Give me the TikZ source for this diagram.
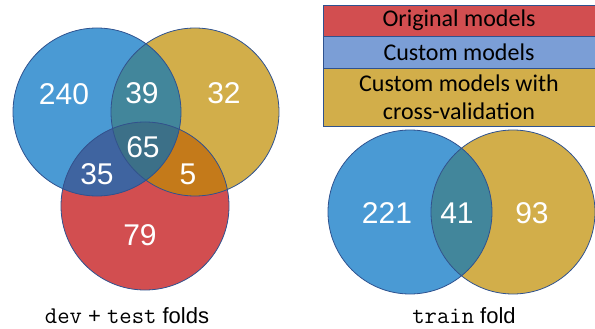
\documentclass[tikz,border=0pt]{standalone}
\usepackage{fontspec}
\setmainfont{Liberation Sans}
\newfontfamily\legfont{Carlito}
\usetikzlibrary{positioning}
\definecolor{vblue}{HTML}{4A9AD4}
\definecolor{vgold}{HTML}{D2AE4A}
\definecolor{vred}{HTML}{D24E50}
\definecolor{vteal}{HTML}{42869B}
\definecolor{vnavy}{HTML}{3F64A0}
\definecolor{vorange}{HTML}{C47A1A}
\definecolor{vmid}{HTML}{3C7088}
\definecolor{lblue}{HTML}{7B9ED6}
\definecolor{edge}{HTML}{2F528F}
\newcommand{\fold}[1]{{\ttfamily\fontsize{24}{24}\selectfont #1}}

\begin{document}
\begin{tikzpicture}[x=1pt,y=-1pt,
	num/.style={text=white,font=\fontsize{30}{30}\selectfont},
	captxt/.style={font=\fontsize{22}{22}\selectfont},
	legrow/.style={draw=edge,line width=0.8pt,minimum width=272pt,outer sep=0pt,
		align=center,font=\legfont\fontsize{24}{28}\selectfont}]
		\useasboundingbox (0,0) rectangle (595,329);
		% dev + test folds
		\def\rl{84pt};
		\coordinate (B) at (97,112);
		\coordinate (G) at (195,112);
		\coordinate (R) at (145,206);
		\fill[vblue] (B) circle [radius=\rl];
		\fill[vgold] (G) circle [radius=\rl];
		\fill[vred] (R) circle [radius=\rl];
		\begin{scope}
			\clip (B) circle [radius=\rl];
			\fill[vteal] (G) circle [radius=\rl];
			\fill[vnavy] (R) circle [radius=\rl];
		\end{scope}
		\begin{scope}
			\clip (G) circle [radius=\rl];
			\clip (R) circle [radius=\rl];
			\fill[vorange] (-10,-10) rectangle (300,300);
			\clip (B) circle [radius=\rl];
			\fill[vmid] (-10,-10) rectangle (300,300);
		\end{scope}
		\draw[edge,line width=0.8pt] (B) circle [radius=\rl];
		\draw[edge,line width=0.8pt] (G) circle [radius=\rl];
		\draw[edge,line width=0.8pt] (R) circle [radius=\rl];
		\node[num] (N240) at (64,94) {240};
		\node[num] (N39) at (142,93) {39};
		\node[num] (N32) at (224,93) {32};
		\node[num] (N65) at (143,147) {65};
		\node[num] (N35) at (97,174) {35};
		\node[num] (N5) at (188,174) {5};
		\node[num] (N79) at (140,235) {79};
		\node[captxt] (CL) at (127,316) {\fold{dev} + \fold{test} folds};
		% train fold
		\def\rr{82pt};
		\coordinate (TB) at (410,212);
		\coordinate (TG) at (513,212);
		\fill[vblue] (TB) circle [radius=\rr];
		\fill[vgold] (TG) circle [radius=\rr];
		\begin{scope}
			\clip (TB) circle [radius=\rr];
			\fill[vteal] (TG) circle [radius=\rr];
		\end{scope}
		\draw[edge,line width=0.8pt] (TB) circle [radius=\rr];
		\draw[edge,line width=0.8pt] (TG) circle [radius=\rr];
		\node[num] (N221) at (387,213) {221};
		\node[num] (N41) at (457,213) {41};
		\node[num] (N93) at (532,213) {93};
		\node[captxt] (CR) at (464,316) {\fold{train} fold};
		% legend
		\node[legrow,fill=vred,minimum height=31pt] (L1) at (459,20.5) {Original models};
		\node[legrow,fill=lblue,minimum height=32pt,below=0pt of L1] (L2) {Custom models};
		\node[legrow,fill=vgold,minimum height=58pt,below=0pt of L2] (L3) {Custom models with\\cross-validation};
\end{tikzpicture}
\end{document}
